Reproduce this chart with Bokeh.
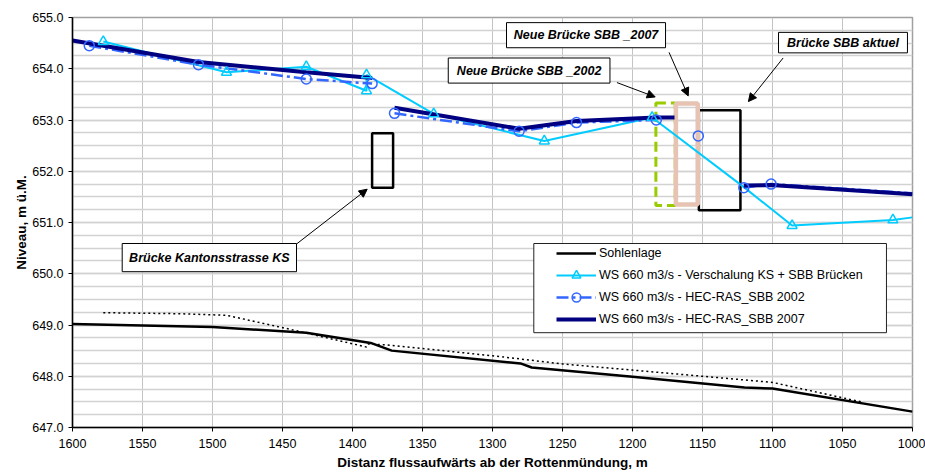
import numpy as np
from bokeh.plotting import figure
from bokeh.models import (Range1d, SingleIntervalTicker, NumeralTickFormatter, Legend,
                          LegendItem, Arrow, NormalHead)
from bokeh.core.properties import value
from bokeh.embed import file_html
from bokeh.resources import INLINE

nan = np.nan
FONT = "Liberation Sans"

# ---------------- data ----------------
# Sohlenlage (bed level)
sohle_x = [1600, 1500, 1433, 1387, 1372, 1280, 1272, 1200, 1120, 1100, 1000]
sohle_y = [649.02, 648.96, 648.85, 648.65, 648.50, 648.25, 648.17, 647.99, 647.78, 647.76, 647.31]

# dotted bed line (earlier survey, not in legend)
dot_x = [1578, 1523, 1490, 1442, 1390, 1389, 1375, 1300, 1250, 1200, 1100, 1035]
dot_y = [649.24, 649.22, 649.19, 648.90, 648.57, 648.63, 648.61, 648.40, 648.24, 648.12, 647.88, 647.49]

# WS 660 m3/s - Verschalung KS + SBB Brücken
cyan_x = [1578, 1490, 1433, 1390, 1390, 1342, 1263, 1186, 1120, 1086, 1014, 1000]
cyan_y = [654.53, 653.93, 654.04, 653.57, 653.88, 653.12, 652.59, 653.05, 651.68, 650.94, 651.05, 651.10]
cyan_marker = [1, 1, 1, 1, 1, 1, 1, 1, 0, 1, 1, 0]

# WS 660 m3/s - HEC-RAS_SBB 2002
hec02_x = [1588, 1510, 1433, 1386, nan, 1370, 1281, 1240, 1183, nan, 1153, nan, 1120.5, 1101, 1000]
hec02_y = [654.45, 654.08, 653.80, 653.71, nan, 653.13, 652.78, 652.95, 653.00, nan, 652.69, nan, 651.68, 651.75, 651.57]
hec02_marker = [1, 1, 1, 1, 0, 1, 1, 1, 1, 0, 1, 0, 1, 1, 0]

# WS 660 m3/s - HEC-RAS_SBB 2007
hec07_x = [1600, 1510, 1433, 1386, nan, 1370, 1281, 1240, 1183, 1170, nan, 1120.5, 1101, 1000]
hec07_y = [654.55, 654.13, 653.93, 653.82, nan, 653.24, 652.83, 652.98, 653.05, 653.05, nan, 651.72, 651.73, 651.55]

# bridge outlines (left, right, bottom, top in data units)
ks_box = (1386, 1371, 651.68, 652.74)
sbb_aktuel_box = (1152.6, 1122.9, 651.24, 653.19)
sbb_2002_box = (1183.3, 1169.5, 651.33, 653.33)
sbb_2007_box = (1169.0, 1153.4, 651.35, 653.32)

# annotations
ann_text = ["Neue Brücke SBB _2007", "Brücke SBB aktuel", "Neue Brücke SBB _2002", "Brücke Kantonsstrasse KS"]
ann_left = [1290, 1095.7, 1331.6, 1564.5]
ann_right = [1176.4, 1003.6, 1216.1, 1440]
ann_bottom = [654.41, 654.31, 653.72, 650.04]
ann_top = [654.90, 654.71, 654.21, 650.59]
arr_x0 = [1173.9, 1092.4, 1211.1, 1440]
arr_y0 = [654.32, 654.21, 653.73, 650.58]
arr_x1 = [1160.2, 1117.2, 1183.8, 1389.5]
arr_y1 = [653.47, 653.36, 653.45, 651.65]

legend_labels = ["Sohlenlage",
                 "WS 660 m3/s - Verschalung KS + SBB Brücken",
                 "WS 660 m3/s - HEC-RAS_SBB 2002",
                 "WS 660 m3/s - HEC-RAS_SBB 2007"]
legend_box = (1270.5, 1018.6, 648.85, 650.59)

# ---------------- figure ----------------
p = figure(width=925, height=472, x_range=Range1d(1600, 1000), y_range=Range1d(647, 655),
           output_backend="svg", toolbar_location=None,
           min_border_left=72, min_border_right=13, min_border_top=17, min_border_bottom=45)
p.background_fill_color = "white"
p.border_fill_color = "white"
p.outline_line_color = "#A0A0A0"
p.outline_line_width = 1.5

p.xaxis.ticker = SingleIntervalTicker(interval=50, num_minor_ticks=0)
p.yaxis.ticker = SingleIntervalTicker(interval=1, num_minor_ticks=4)
p.yaxis.formatter = NumeralTickFormatter(format="0.0")

p.xgrid.grid_line_color = "#C4C4C4"
p.xgrid.grid_line_width = 1
p.ygrid.grid_line_color = "#D2D2D2"
p.ygrid.grid_line_width = 1.5
p.ygrid.minor_grid_line_color = "#D2D2D2"
p.ygrid.minor_grid_line_width = 1.5

for ax in (p.xaxis[0], p.yaxis[0]):
    ax.axis_line_color = "black"
    ax.axis_line_width = 1.5
    ax.major_tick_line_color = "black"
    ax.major_tick_out = 4
    ax.major_tick_in = 0
    ax.minor_tick_line_color = None
    ax.major_label_text_font = FONT
    ax.major_label_text_font_size = "12.5px"
    ax.major_label_text_color = "black"
    ax.axis_label_text_font = FONT
    ax.axis_label_text_font_style = "bold"
    ax.axis_label_text_font_size = "13.5px"
    ax.axis_label_text_color = "black"

p.xaxis.axis_label = "Distanz flussaufwärts ab der Rottenmündung, m"
p.yaxis.axis_label = "Niveau, m ü.M."
p.xaxis.major_label_standoff = 7
p.xaxis.axis_label_standoff = 4
p.yaxis.major_label_standoff = 5
p.yaxis.axis_label_standoff = 0

# bridges
p.quad(left=[sbb_2002_box[0]], right=[sbb_2002_box[1]], bottom=[sbb_2002_box[2]], top=[sbb_2002_box[3]],
       fill_color=None, line_color="#99CC00", line_width=3, line_dash="10 5")
p.quad(left=[sbb_aktuel_box[0]], right=[sbb_aktuel_box[1]], bottom=[sbb_aktuel_box[2]], top=[sbb_aktuel_box[3]],
       fill_color=None, line_color="black", line_width=2.5)
p.quad(left=[sbb_2007_box[0]], right=[sbb_2007_box[1]], bottom=[sbb_2007_box[2]], top=[sbb_2007_box[3]],
       fill_color=None, line_color="#E6C3B3", line_width=4.5)
p.quad(left=[ks_box[0]], right=[ks_box[1]], bottom=[ks_box[2]], top=[ks_box[3]],
       fill_color=None, line_color="black", line_width=2.5)

# legend background box
p.quad(left=[legend_box[0]], right=[legend_box[1]], bottom=[legend_box[2]], top=[legend_box[3]],
       fill_color="white", line_color="#222222", line_width=1)

# series
r_sohle = p.line(sohle_x, sohle_y, line_color="black", line_width=2.5)
p.line(dot_x, dot_y, line_color="black", line_width=1.5, line_dash="2 3")
r_cyan = p.line(cyan_x, cyan_y, line_color="#00CCFF", line_width=2)
r_02 = p.line(hec02_x, hec02_y, line_color="#3366FF", line_width=2.5, line_dash="12 4 3 4")
r_07 = p.line(hec07_x, hec07_y, line_color="#000080", line_width=4)

cx = [x for x, m in zip(cyan_x, cyan_marker) if m]
cy = [y for y, m in zip(cyan_y, cyan_marker) if m]
r_cyan_m = p.scatter(cx, cy, marker="triangle", size=10, line_color="#00CCFF", fill_color=None, line_width=1.5)
hx = [x for x, m in zip(hec02_x, hec02_marker) if m]
hy = [y for y, m in zip(hec02_y, hec02_marker) if m]
r_02_m = p.scatter(hx, hy, marker="circle", size=10, line_color="#3366FF", fill_color=None, line_width=1.5)

# annotation boxes, texts and arrows
p.quad(left=ann_left, right=ann_right, bottom=ann_bottom, top=ann_top,
       fill_color="white", line_color="black", line_width=1)
ann_x = [(a + b) / 2 for a, b in zip(ann_left, ann_right)]
ann_y = [(a + b) / 2 for a, b in zip(ann_bottom, ann_top)]
p.text(x=ann_x, y=ann_y, text=ann_text, text_font=value(FONT), text_font_style="bold italic",
       text_font_size="12.5px", text_align="center", text_baseline="middle", text_color="black")
for x0, y0, x1, y1 in zip(arr_x0, arr_y0, arr_x1, arr_y1):
    p.add_layout(Arrow(end=NormalHead(size=8, fill_color="black", line_color="black", line_width=1),
                       x_start=x0, y_start=y0, x_end=x1, y_end=y1,
                       line_color="black", line_width=1))

legend = Legend(items=[LegendItem(label=legend_labels[0], renderers=[r_sohle]),
                       LegendItem(label=legend_labels[1], renderers=[r_cyan, r_cyan_m]),
                       LegendItem(label=legend_labels[2], renderers=[r_02, r_02_m]),
                       LegendItem(label=legend_labels[3], renderers=[r_07])],
                location=(483, 96), padding=1, spacing=0, margin=0,
                glyph_width=40, glyph_height=22, label_height=22, label_standoff=3,
                border_line_alpha=0, background_fill_alpha=0,
                label_text_font=FONT, label_text_font_size="12.5px", label_text_color="black")
p.add_layout(legend)

open("out.html", "w").write(file_html(p, INLINE))
